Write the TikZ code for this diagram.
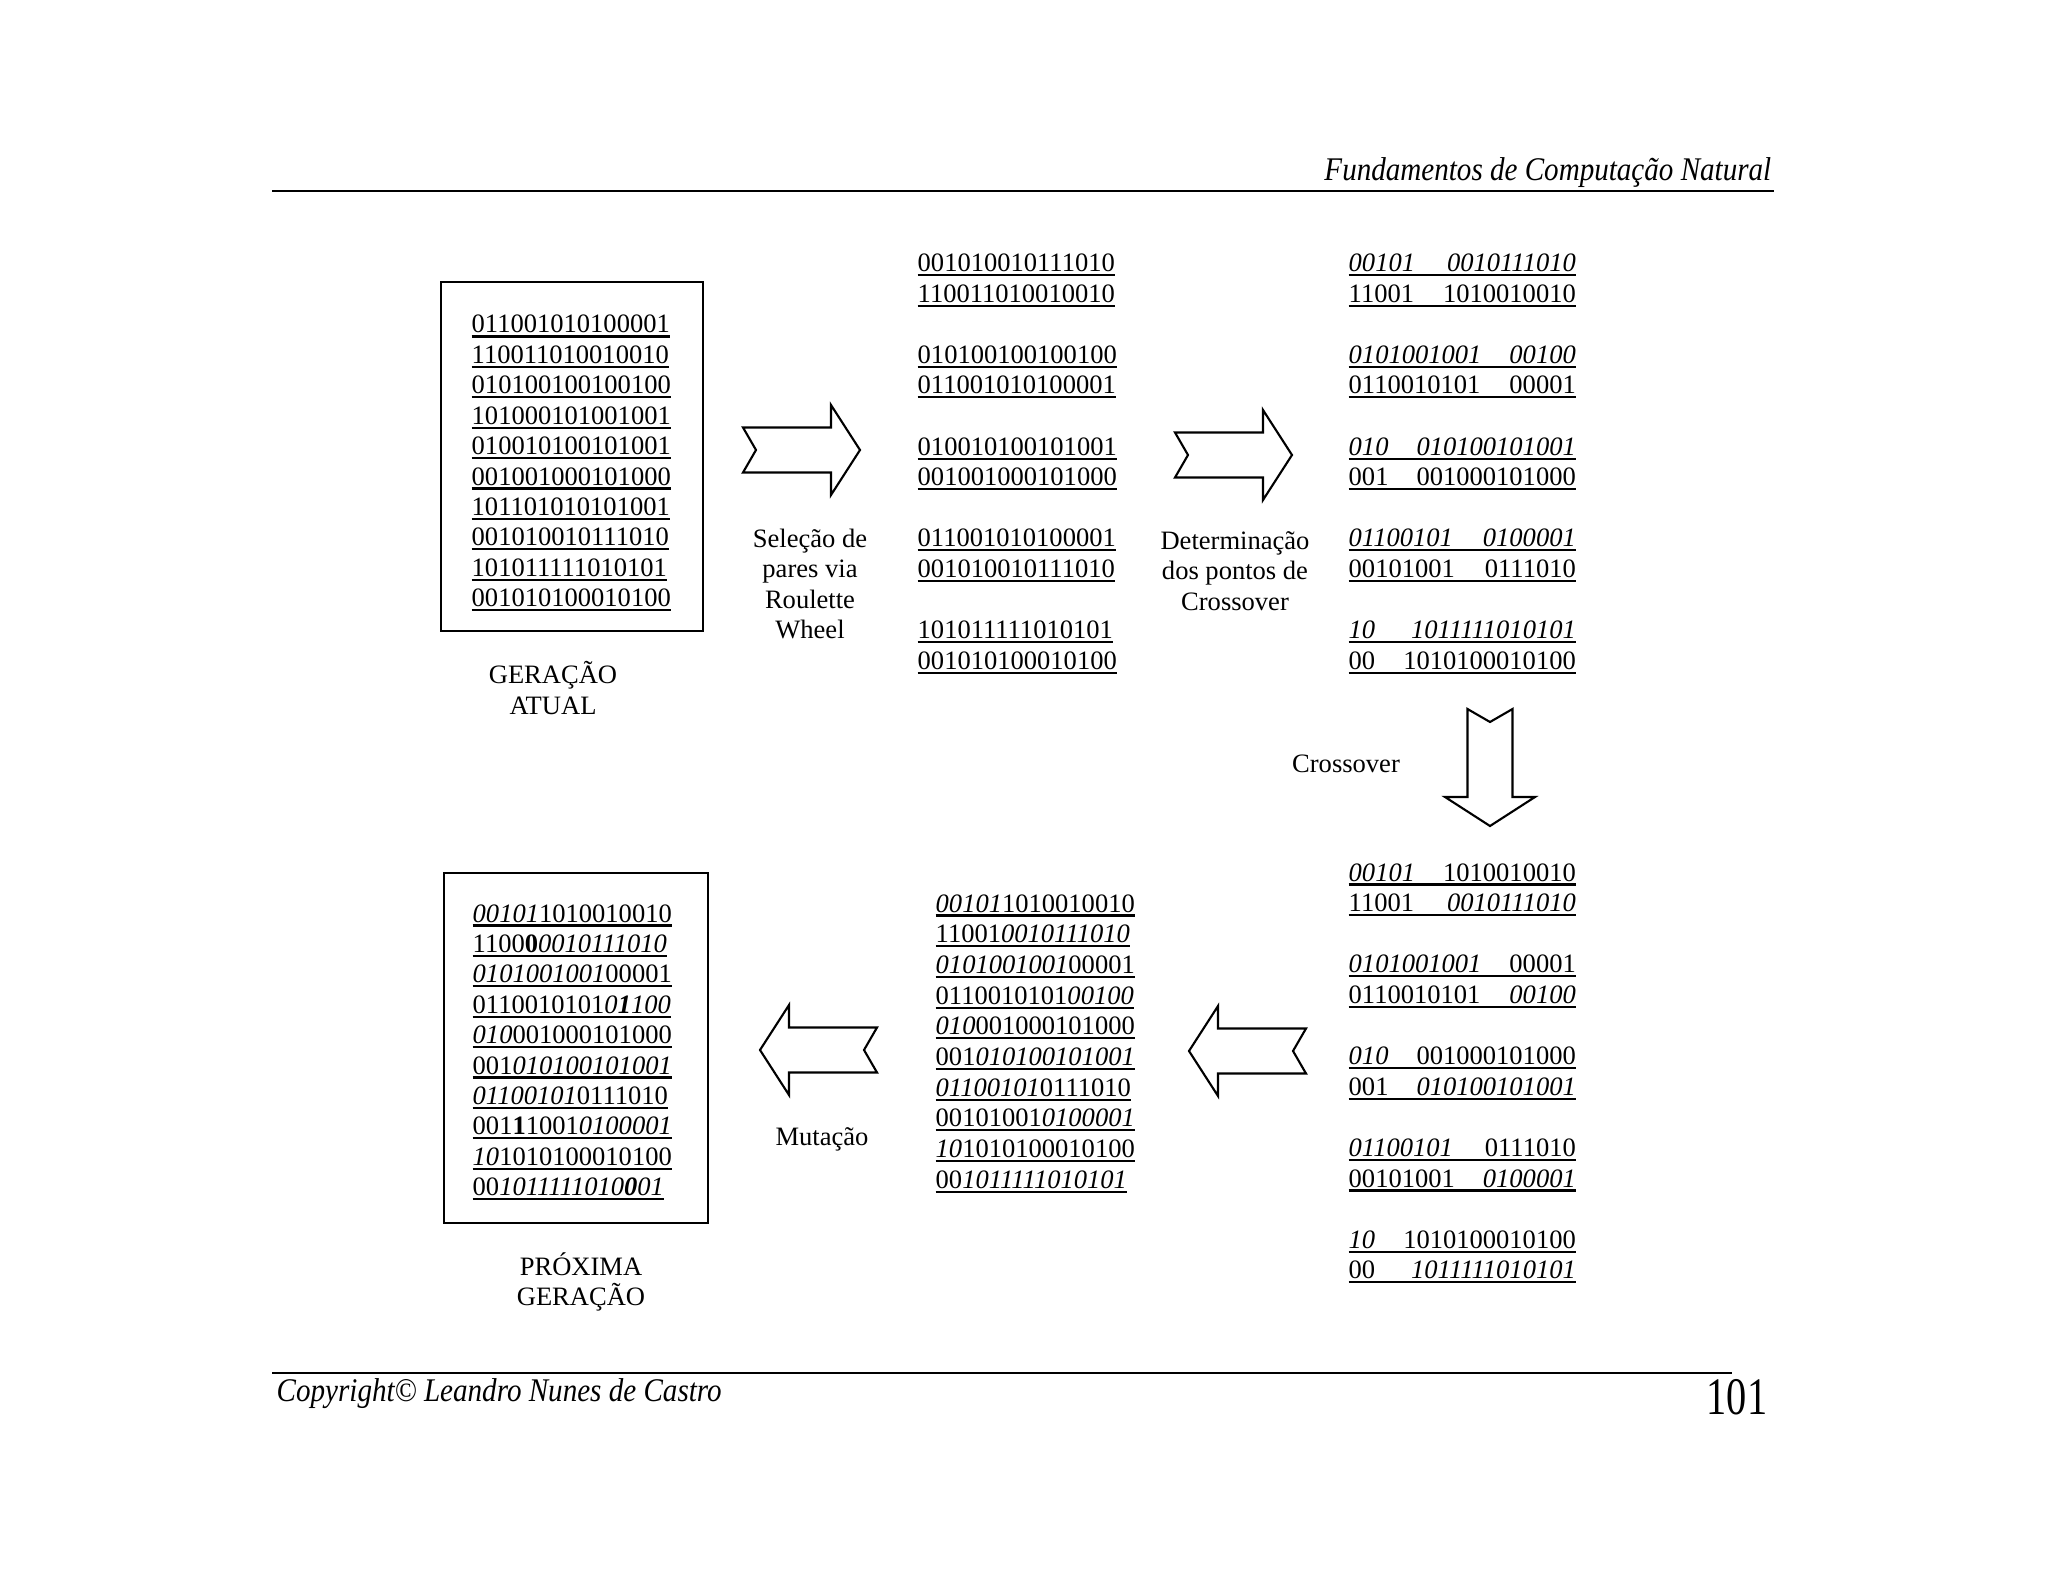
\documentclass[tikz,border=0pt]{standalone}
\usepackage{fontspec}
\setmainfont{Liberation Serif}
\newfontfamily\headfont[FakeStretch=0.88]{Liberation Serif}

\newsavebox\bitbox
\newcommand\bitline[1]{\sbox\bitbox{#1}\rlap{\rule[-1.3pt]{\wd\bitbox}{0.6pt}}\usebox\bitbox}
\newcommand\cutline[2]{\bitline{\hbox to 2.27cm{#1\hfill#2}}}

\tikzset{
  bits/.style={anchor=base west,inner sep=0pt,font=\fontsize{7.55}{8.7}\selectfont},
  caption/.style={align=center,inner sep=0pt,font=\fontsize{7.55}{8.7}\selectfont},
  fatarrow/.pic={
    \draw[line width=0.6pt,fill=white] (0,-22.5) -- (88,-22.5) -- (88,-45) -- (117,0)
      -- (88,45) -- (88,22.5) -- (0,22.5) -- (13,0) -- cycle;
  }
}

\begin{document}
\begin{tikzpicture}[x=0.01cm,y=-0.01cm]
  \useasboundingbox (0,0) rectangle (2048,1582);

  \draw[line width=0.8pt] (272,191) -- (1774,191);
  \node[anchor=base east,inner sep=0pt,font=\fontsize{9.4}{11}\headfont\itshape] (titulo) at (1772,181) {Fundamentos de Computação Natural};
  \draw[line width=0.8pt] (272,1373) -- (1732,1373);
  \node[anchor=base west,inner sep=0pt,font=\fontsize{9.4}{11}\headfont\itshape] (copy) at (276,1401) {Copyright© Leandro Nunes de Castro};
  \node[anchor=base east,inner sep=0pt,font=\fontsize{15}{18}\headfont] (pagina) at (1768,1414) {\scalebox{0.87}[1]{101}};

  \draw[line width=0.6pt] (441,282) rectangle (703,631);
  \foreach \s [count=\i from 0] in {011001010100001,110011010010010,010100100100100,101000101001001,010010100101001,
                                   001001000101000,101101010101001,001010010111010,101011111010101,001010100010100}
    \node[bits] (atual-\i) at (471,333+30.4*\i) {\bitline{\s}};
  \node[caption] (atual-rot) at (553,688) {GERAÇÃO\\ATUAL};

  \pic (sel) at (743,450) {fatarrow};
  \node[caption] (sel-rot) at (810,584) {Seleção de\\pares via\\Roulette\\Wheel};

  \foreach \a/\b [count=\p from 0] in {001010010111010/110011010010010,010100100100100/011001010100001,
                                      010010100101001/001001000101000,011001010100001/001010010111010,
                                      101011111010101/001010100010100}{
    \node[bits] (pares-\p a) at (917,271.5+91.8*\p) {\bitline{\a}};
    \node[bits] (pares-\p b) at (917,302.1+91.8*\p) {\bitline{\b}};
  }

  \pic (det) at (1175,455) {fatarrow};
  \node[caption] (det-rot) at (1235,571) {Determinação\\dos pontos de\\Crossover};

  \foreach \a/\b/\c/\d [count=\p from 0] in {\textit{00101}/\textit{0010111010}/11001/1010010010,
                                            \textit{0101001001}/\textit{00100}/0110010101/00001,
                                            \textit{010}/\textit{010100101001}/001/001000101000,
                                            \textit{01100101}/\textit{0100001}/00101001/0111010,
                                            \textit{10}/\textit{1011111010101}/00/1010100010100}{
    \node[bits] (corte-\p a) at (1348,271.5+91.8*\p) {\cutline{\a}{\b}};
    \node[bits] (corte-\p b) at (1348,302.1+91.8*\p) {\cutline{\c}{\d}};
  }

  \pic[rotate=-90] (cross) at (1490,709) {fatarrow};
  \node[caption] (cross-rot) at (1346,764) {Crossover};

  \foreach \a/\b/\c/\d [count=\p from 0] in {\textit{00101}/1010010010/11001/\textit{0010111010},
                                            \textit{0101001001}/00001/0110010101/\textit{00100},
                                            \textit{010}/001000101000/001/\textit{010100101001},
                                            \textit{01100101}/0111010/00101001/\textit{0100001},
                                            \textit{10}/1010100010100/00/\textit{1011111010101}}{
    \node[bits] (filhos-\p a) at (1348,881+91.8*\p) {\cutline{\a}{\b}};
    \node[bits] (filhos-\p b) at (1348,911.6+91.8*\p) {\cutline{\c}{\d}};
  }

  \pic[rotate=180] (junta) at (1306,1051) {fatarrow};

  \foreach \s [count=\i from 0] in {\textit{00101}1010010010,11001\textit{0010111010},\textit{0101001001}00001,
                                   0110010101\textit{00100},\textit{010}001000101000,001\textit{010100101001},
                                   \textit{01100101}0111010,00101001\textit{0100001},\textit{10}1010100010100,
                                   00\textit{1011111010101}}
    \node[bits] (novos-\i) at (935,912+30.7*\i) {\bitline{\s}};

  \pic[rotate=180] (mut) at (877,1050) {fatarrow};
  \node[caption] (mut-rot) at (822,1139) {Mutação};

  \draw[line width=0.6pt] (444,873) rectangle (708,1223);
  \foreach \s [count=\i from 0] in {\textit{00101}1010010010,1100\textbf{0}\textit{0010111010},\textit{0101001001}00001,
                                   0110010101\textit{0\textbf{1}100},\textit{010}001000101000,001\textit{010100101001},
                                   \textit{01100101}0111010,001\textbf{1}1001\textit{0100001},\textit{10}1010100010100,
                                   00\textit{1011111010\textbf{0}01}}
    \node[bits] (prox-\i) at (472,922+30.4*\i) {\bitline{\s}};
  \node[caption] (prox-rot) at (581,1282) {PRÓXIMA\\GERAÇÃO};
\end{tikzpicture}
\end{document}
